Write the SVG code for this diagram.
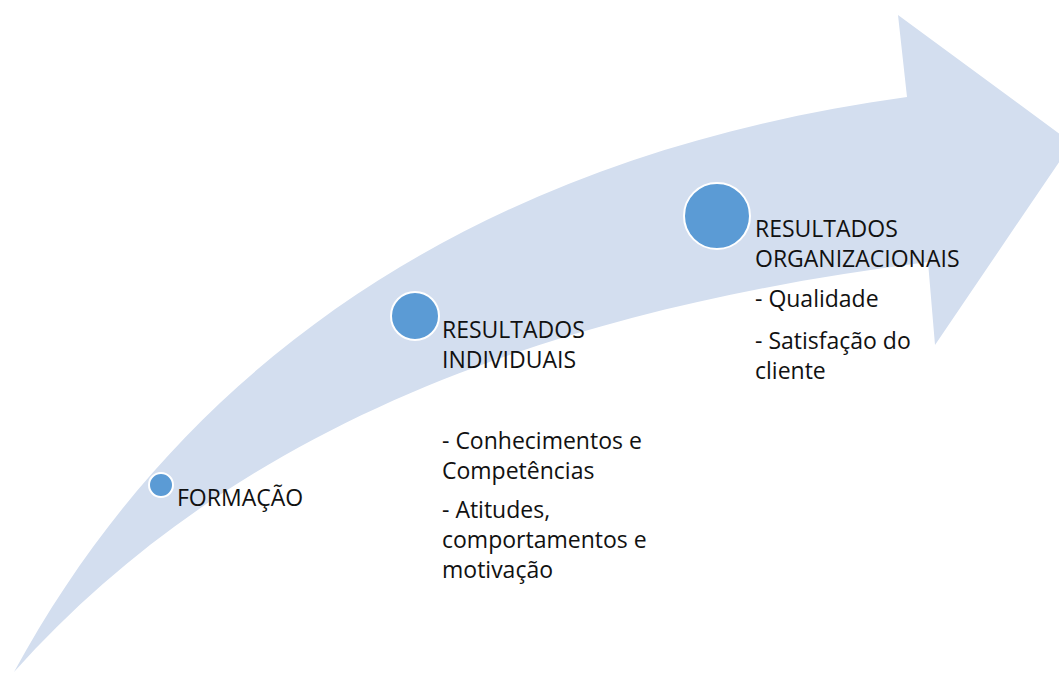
<svg xmlns="http://www.w3.org/2000/svg" width="1059" height="673" viewBox="0 0 1059 673">
<style>
.arrow{fill:#D3DEEF}
.dot{fill:#5B9BD5;stroke:#FFFFFF;stroke-width:2}
.t{font-family:"Open Sans","Liberation Sans",sans-serif;font-size:23px;fill:#111111}
</style>
<rect width="1059" height="673" fill="#FFFFFF"/>
<g id="arrow">
<path class="arrow" d="M14,672 C200,330 520,150 907,97 L898,15 L1072,143 L935,345 L928,262 C550,310 235,425 14,672 Z"/>
</g>
<g id="connectors"></g>
<g id="node-formacao">
<circle class="dot" cx="161" cy="485" r="12"/>
<text class="t" x="177" y="506">FORMAÇÃO</text>
</g>
<g id="node-individuais">
<circle class="dot" cx="415" cy="316" r="24"/>
<text class="t" x="442" y="338">RESULTADOS</text>
<text class="t" x="442" y="368">INDIVIDUAIS</text>
<text class="t" x="442" y="449">- Conhecimentos e</text>
<text class="t" x="442" y="479">Competências</text>
<text class="t" x="442" y="518">- Atitudes,</text>
<text class="t" x="442" y="548">comportamentos e</text>
<text class="t" x="442" y="578">motivação</text>
</g>
<g id="node-organizacionais">
<circle class="dot" cx="717" cy="216" r="33"/>
<text class="t" x="755" y="237">RESULTADOS</text>
<text class="t" x="755" y="267">ORGANIZACIONAIS</text>
<text class="t" x="755" y="307">- Qualidade</text>
<text class="t" x="755" y="349">- Satisfação do</text>
<text class="t" x="755" y="379">cliente</text>
</g>
</svg>
